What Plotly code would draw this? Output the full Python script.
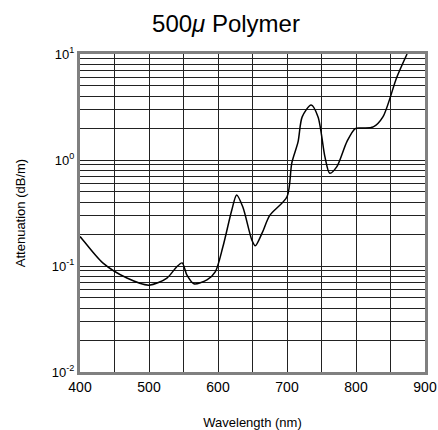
import plotly.graph_objects as go

wavelength = [400, 403, 433, 468, 500, 526, 540, 548, 555, 565, 584, 596, 607, 620, 627, 636, 649, 654, 664, 675,
              700, 707, 716, 722, 735, 745, 755, 762, 772, 787, 799, 810, 825, 839, 859, 874]
attenuation = [0.19, 0.18, 0.107, 0.077, 0.066, 0.077, 0.098, 0.107, 0.082, 0.068, 0.074, 0.088, 0.151, 0.337, 0.468, 0.36, 0.176, 0.155, 0.205, 0.30,
               0.45, 0.94, 1.48, 2.55, 3.3, 2.55, 1.07, 0.75, 0.86, 1.5, 1.98, 2.0, 2.05, 2.55, 6.0, 10.0]

x_ticks = [400, 500, 600, 700, 800, 900]
x_labels = ["400", "500", "600", "700", "800", "900"]
x_minor = [450, 550, 650, 750, 850]
y_ticks = [0.01, 0.1, 1, 10]
y_labels = ["10<sup>-2</sup>", "10<sup>-1</sup>", "10<sup>0</sup>", "10<sup>1</sup>"]
y_minor = [d * 10.0 ** k for k in (-2, -1, 0) for d in range(2, 10)]

fig = go.Figure()
fig.add_trace(go.Scatter(x=wavelength, y=attenuation, mode="lines",
                         line=dict(color="black", width=1.5, shape="spline", smoothing=0.8),
                         showlegend=False, hoverinfo="skip"))

fig.update_layout(
    width=438, height=430,
    margin=dict(l=80, r=13, t=54, b=58),
    paper_bgcolor="white", plot_bgcolor="white",
    font=dict(family="Liberation Sans, Arial, sans-serif", color="black"),
    title=dict(text="500<i>μ</i> Polymer", x=0.516, xanchor="center", xref="container",
               y=0.945, yanchor="middle", font=dict(size=24, color="black")),
)
fig.update_xaxes(range=[400, 900], tickmode="array", tickvals=x_ticks, ticktext=x_labels,
                 showgrid=True, gridcolor="#222", gridwidth=1,
                 minor=dict(tickmode="array", tickvals=x_minor, showgrid=True, gridcolor="#222", gridwidth=1, ticks=""),
                 showline=True, linecolor="#808080", linewidth=3, mirror=True,
                 ticks="", tickfont=dict(size=14), automargin=False,
                 title=dict(text="Wavelength (nm)", font=dict(size=13), standoff=26),
                 zeroline=False)
fig.update_yaxes(type="log", range=[-2, 1], tickmode="array", tickvals=y_ticks, ticktext=y_labels,
                 showgrid=True, gridcolor="#222", gridwidth=1,
                 minor=dict(tickmode="array", tickvals=y_minor, showgrid=True, gridcolor="#222", gridwidth=1, ticks=""),
                 showline=True, linecolor="#808080", linewidth=3, mirror=True,
                 ticks="", tickfont=dict(size=13), automargin=False,
                 title=dict(text="Attenuation (dB/m)", font=dict(size=13), standoff=24),
                 zeroline=False)

fig.write_html("out.html", config={"displayModeBar": False},
               post_script="document.body.style.margin='0';")
